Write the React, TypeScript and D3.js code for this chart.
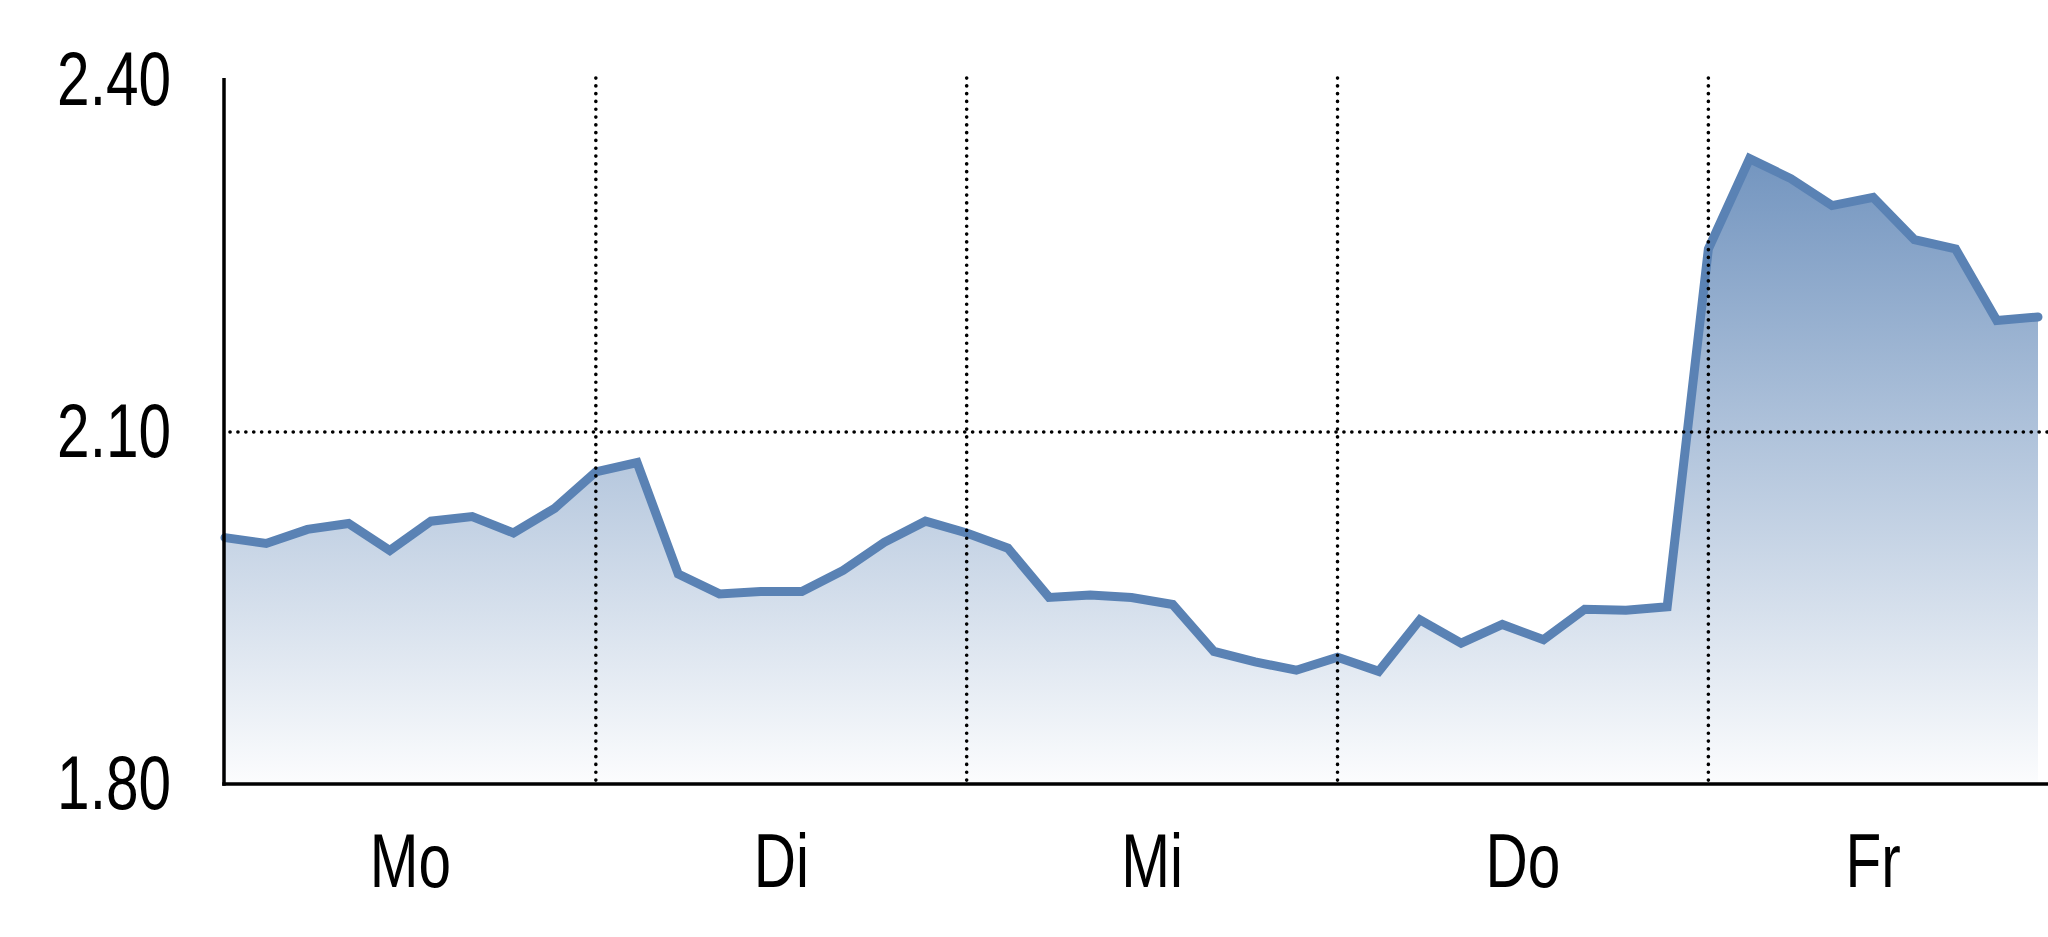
import React from "react";
import * as d3 from "d3";

const days = ["Mo", "Di", "Mi", "Do", "Fr"];
const moValues = [2.010, 2.005, 2.017, 2.022, 1.999, 2.024, 2.028, 2.014, 2.035];
const diValues = [2.066, 2.074, 1.979, 1.962, 1.964, 1.964, 1.982, 2.006, 2.024];
const miValues = [2.014, 2.001, 1.959, 1.961, 1.959, 1.953, 1.913, 1.904, 1.897];
const doValues = [1.908, 1.896, 1.940, 1.920, 1.936, 1.923, 1.949, 1.948, 1.951];
const frValues = [2.256, 2.333, 2.316, 2.293, 2.300, 2.264, 2.256, 2.195, 2.198];
const yTicks = [1.8, 2.1, 2.4];
const gridValue = 2.1;

const dayValues = [moValues, diValues, miValues, doValues, frValues];
const series = dayValues.flat();

const W = 2048;
const H = 937;
const LEFT = 224;
const TOP = 80;
const BOTTOM = 784;
const LINE_COLOR = "#5a82b4";
const FONT = "'Liberation Sans', Arial, sans-serif";
const NARROW = 0.77;

export default function App() {
  const x = d3.scaleLinear().domain([0, series.length - 1]).range([225, 2038]);
  const y = d3.scaleLinear().domain([1.8, 2.4]).range([BOTTOM, TOP]);

  const line = d3.line<number>().x((_, i) => x(i)).y((d) => y(d));
  const area = d3
    .area<number>()
    .x((_, i) => x(i))
    .y0(BOTTOM)
    .y1((d) => y(d));

  const starts: number[] = [];
  let acc = 0;
  dayValues.forEach((arr) => {
    starts.push(acc);
    acc += arr.length;
  });
  const last = series.length - 1;
  const fmt = d3.format(".2f");

  return (
    <svg
      width={W}
      height={H}
      style={{ position: "absolute", left: 0, top: 0, display: "block", background: "#fff" }}
    >
      <defs>
        <linearGradient id="fillGrad" gradientUnits="userSpaceOnUse" x1={0} y1={TOP} x2={0} y2={BOTTOM}>
          <stop offset="0%" stopColor={LINE_COLOR} stopOpacity={0.95} />
          <stop offset="100%" stopColor={LINE_COLOR} stopOpacity={0.02} />
        </linearGradient>
      </defs>
      <rect x={0} y={0} width={W} height={H} fill="#fff" />
      <path d={area(series) || ""} fill="url(#fillGrad)" />
      <path
        d={line(series) || ""}
        fill="none"
        stroke={LINE_COLOR}
        strokeWidth={9}
        strokeLinejoin="miter"
        strokeLinecap="round"
      />
      {/* gridlines */}
      <line
        x1={LEFT + 6}
        x2={W}
        y1={y(gridValue)}
        y2={y(gridValue)}
        stroke="#000"
        strokeWidth={3.6}
        strokeDasharray="0.1 7.8"
        strokeLinecap="round"
      />
      {starts.slice(1).map((s) => (
        <line
          key={s}
          x1={x(s)}
          x2={x(s)}
          y1={TOP - 2}
          y2={BOTTOM}
          stroke="#000"
          strokeWidth={3.6}
          strokeDasharray="0.1 7.7"
          strokeLinecap="round"
        />
      ))}
      {/* axes */}
      <line x1={LEFT} x2={LEFT} y1={TOP - 2} y2={BOTTOM + 1.75} stroke="#000" strokeWidth={3.5} />
      <line x1={LEFT - 1.75} x2={W} y1={BOTTOM} y2={BOTTOM} stroke="#000" strokeWidth={3.5} />
      {yTicks.map((t) => (
        <text
          key={t}
          transform={`translate(171,${y(t) + 25}) scale(${NARROW},1)`}
          textAnchor="end"
          fontFamily={FONT}
          fontSize={76}
          fill="#000"
        >
          {fmt(t)}
        </text>
      ))}
      {days.map((d, i) => {
        const s = starts[i];
        const e = Math.min(s + dayValues[i].length, last);
        return (
          <text
            key={d}
            transform={`translate(${x((s + e) / 2)},887) scale(${NARROW},1)`}
            textAnchor="middle"
            fontFamily={FONT}
            fontSize={76}
            fill="#000"
          >
            {d}
          </text>
        );
      })}
    </svg>
  );
}
